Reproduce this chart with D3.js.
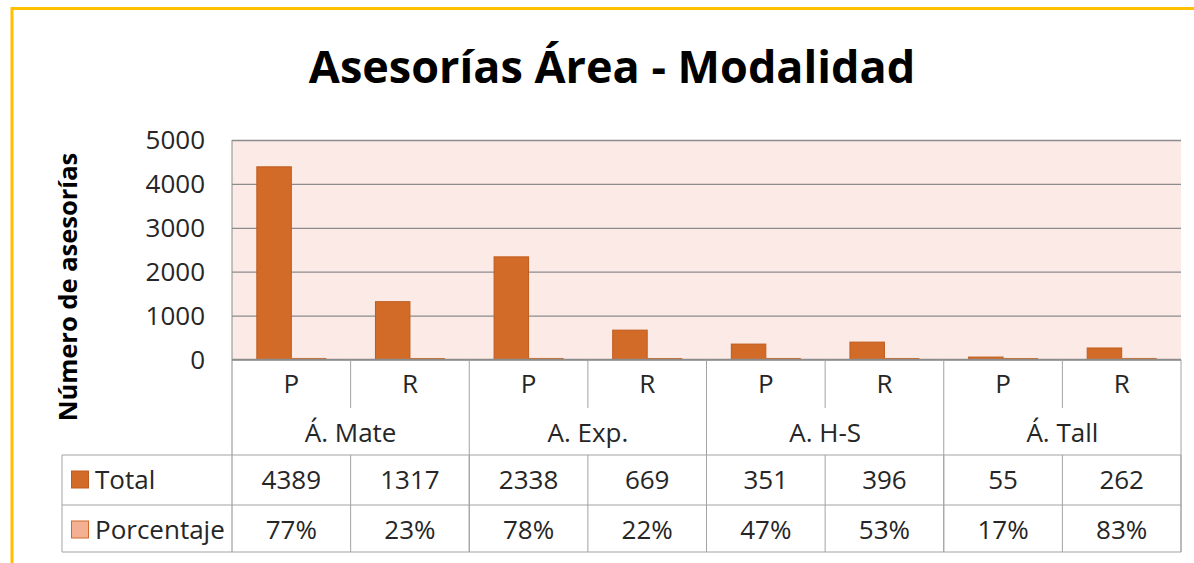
<!DOCTYPE html>
<html>
<meta charset="utf-8">
<style>
    body{ margin: 0; background: #fff; }
    svg{ display: block; font-family: "Open Sans", sans-serif; }
</style>
<body>
<svg width="1194" height="563"></svg>
<script src="https://d3js.org/d3.v7.min.js"></script>
<script>

    const groups = ["Á. Mate", "A. Exp.", "A. H-S", "Á. Tall"];
    const modes = ["P", "R"];
    const seriesNames = ["Total", "Porcentaje"];
    const total = [4389, 1317, 2338, 669, 351, 396, 55, 262];
    const porcentaje = [0.77, 0.23, 0.78, 0.22, 0.47, 0.53, 0.17, 0.83];
    const yTicks = [0, 1000, 2000, 3000, 4000, 5000];

    let svg = d3.select("svg"),
        plot = {left: 232, right: 1181, top: 140, bottom: 359.5},
        tableLeft = 62,
        rowLines = [455, 505, 552],
        gridColor = "#8c8c8c",
        lineColor = "#a3a3a3",
        textColor = "#262626";

    let fill = {Total: "#d36b28", Porcentaje: "#f4b093"},
        edge = {Total: "#bf5b1d", Porcentaje: "#d36b28"};

    // one column per group + modality
    let cats = [];
    groups.forEach(function (g, gi) {
        modes.forEach(function (m, mi) {
            let i = gi * modes.length + mi;
            cats.push({group: g, mode: m, key: g + "|" + m, Total: total[i], Porcentaje: porcentaje[i]});
        });
    });

    let x0 = d3.scaleBand()
        .domain(cats.map(d => d.key))
        .range([plot.left, plot.right]);

    let x1 = d3.scaleBand()
        .domain(seriesNames)
        .range([0, x0.bandwidth()])
        .paddingInner(0)
        .paddingOuter(0.72);

    let y = d3.scaleLinear()
        .domain([0, 5000])
        .range([plot.bottom, plot.top]);

    // yellow frame
    svg.append("line").attr("x1", 12).attr("x2", 1194).attr("y1", 8.5).attr("y2", 8.5)
        .attr("stroke", "#ffc000").attr("stroke-width", 3);
    svg.append("line").attr("x1", 12).attr("x2", 12).attr("y1", 7).attr("y2", 563)
        .attr("stroke", "#ffc000").attr("stroke-width", 3);

    // title
    svg.append("text")
        .attr("x", 612)
        .attr("y", 83)
        .attr("text-anchor", "middle")
        .attr("font-size", 45)
        .attr("font-weight", "bold")
        .attr("fill", "#000")
        .text("Asesorías Área - Modalidad");

    // plot background
    svg.append("rect")
        .attr("x", plot.left)
        .attr("y", plot.top)
        .attr("width", plot.right - plot.left)
        .attr("height", plot.bottom - plot.top)
        .attr("fill", "#fbeae6");

    // y axis with gridlines
    let yAxis = svg.append("g")
        .attr("transform", "translate(" + plot.left + ",0)")
        .call(d3.axisLeft(y).tickValues(yTicks).tickFormat(d3.format("d"))
            .tickSize(-(plot.right - plot.left)).tickPadding(27));
    yAxis.select(".domain").remove();
    yAxis.selectAll("line").attr("stroke", gridColor).attr("stroke-width", 1.3);
    yAxis.selectAll("text")
        .attr("font-size", 26)
        .attr("font-family", "'Open Sans', sans-serif")
        .attr("fill", textColor)
        .attr("dy", "0.34em");

    svg.append("text")
        .attr("transform", "translate(77,287) rotate(-90)")
        .attr("text-anchor", "middle")
        .attr("font-size", 25.5)
        .attr("font-weight", "bold")
        .attr("fill", "#000")
        .text("Número de asesorías");

    // bars
    svg.append("g")
        .selectAll("g")
        .data(cats)
        .enter().append("g")
        .attr("transform", d => "translate(" + x0(d.key) + ",0)")
        .selectAll("rect")
        .data(d => seriesNames.map(k => ({key: k, value: d[k]})))
        .enter().append("rect")
        .attr("x", d => x1(d.key))
        .attr("y", d => y(d.value) - (d.key === "Porcentaje" ? 1 : 0))
        .attr("width", x1.bandwidth())
        .attr("height", d => plot.bottom - y(d.value) + (d.key === "Porcentaje" ? 1 : 0))
        .attr("fill", d => fill[d.key])
        .attr("stroke", d => edge[d.key])
        .attr("stroke-width", 1);

    // data table lines
    let lines = svg.append("g").attr("stroke", lineColor).attr("stroke-width", 1).attr("fill", "none");
    lines.append("line").attr("x1", plot.left).attr("x2", plot.right)
        .attr("y1", plot.bottom).attr("y2", plot.bottom).attr("stroke", gridColor).attr("stroke-width", 1.3);
    lines.append("line").attr("x1", plot.left).attr("x2", plot.left)
        .attr("y1", plot.top).attr("y2", rowLines[2]).attr("stroke", gridColor);
    rowLines.forEach(function (ry) {
        lines.append("line").attr("x1", tableLeft).attr("x2", plot.right).attr("y1", ry).attr("y2", ry);
    });
    lines.append("line").attr("x1", tableLeft).attr("x2", tableLeft)
        .attr("y1", rowLines[0]).attr("y2", rowLines[2]);
    cats.forEach(function (d, i) {
        let xr = x0(d.key) + x0.bandwidth();
        let groupEnd = (i % modes.length) === modes.length - 1;
        lines.append("line").attr("x1", xr).attr("x2", xr)
            .attr("y1", plot.bottom).attr("y2", groupEnd ? rowLines[2] : 408);
    });
    cats.forEach(function (d) {
        let xr = x0(d.key) + x0.bandwidth();
        lines.append("line").attr("x1", xr).attr("x2", xr)
            .attr("y1", rowLines[0]).attr("y2", rowLines[2]);
    });

    // table text
    let txt = svg.append("g")
        .attr("font-size", 26)
        .attr("fill", textColor)
        .attr("text-anchor", "middle");

    txt.selectAll(".mode")
        .data(cats)
        .enter().append("text")
        .attr("x", d => x0(d.key) + x0.bandwidth() / 2)
        .attr("y", 393)
        .text(d => d.mode);

    txt.selectAll(".group")
        .data(groups)
        .enter().append("text")
        .attr("x", g => x0(g + "|" + modes[0]) + x0.bandwidth() * modes.length / 2)
        .attr("y", 442)
        .text(g => g);

    let rowBase = {Total: 489, Porcentaje: 539};
    let fmt = {Total: d3.format("d"), Porcentaje: d3.format(".0%")};

    seriesNames.forEach(function (s) {
        txt.selectAll(".v" + s)
            .data(cats)
            .enter().append("text")
            .attr("x", d => x0(d.key) + x0.bandwidth() / 2)
            .attr("y", rowBase[s])
            .text(d => fmt[s](d[s]));

        svg.append("rect")
            .attr("x", 71.5)
            .attr("y", rowBase[s] - 18)
            .attr("width", 17)
            .attr("height", 17)
            .attr("fill", fill[s])
            .attr("stroke", edge[s]);

        svg.append("text")
            .attr("x", 95)
            .attr("y", rowBase[s])
            .attr("font-size", 26)
            .attr("fill", textColor)
            .text(s);
    });

</script>
</body>
</html>
